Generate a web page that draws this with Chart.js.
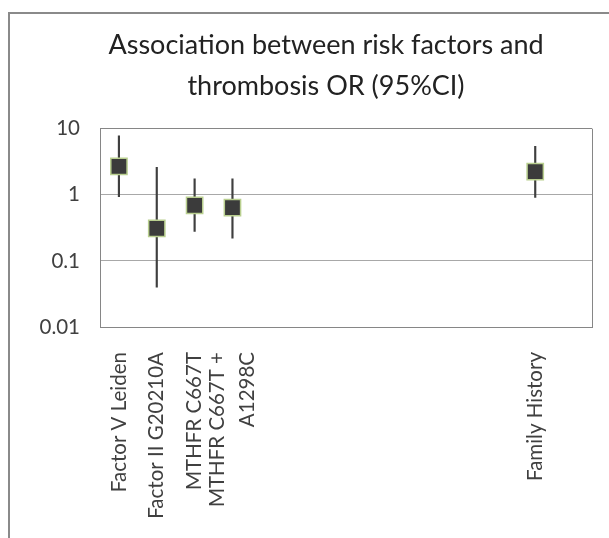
<!DOCTYPE html>
<html>
<head>
<meta charset="utf-8">
<script src="https://cdn.jsdelivr.net/npm/chart.js@4.4.1/dist/chart.umd.min.js"></script>
<style>
  html, body { margin: 0; padding: 0; background: #fff; overflow: hidden; }
  #wrap { position: relative; width: 609px; height: 538px; }
  #frame {
    position: absolute; left: 8px; top: 12px; width: 700px; height: 600px;
    border-left: 2px solid #8a8a8a; border-top: 2px solid #8a8a8a;
    pointer-events: none;
  }
  canvas { position: absolute; left: 0; top: 0; }
</style>
</head>
<body>
<div id="wrap">
  <canvas id="orChart" width="609" height="538"></canvas>
  <div id="frame"></div>
</div>
<script>
// --- data ---
const categories = [
    'Factor V Leiden', 'Factor II G20210A', 'MTHFR C667T', ['MTHFR C667T +', 'A1298C'],
    '', '', '', '', '', '', '', 'Family History', ''
];
const oddsRatio = [2.7, 0.31, 0.69, 0.64, null, null, null, null, null, null, null, 2.25, null];
const ciLow     = [0.94, 0.04, 0.28, 0.22, null, null, null, null, null, null, null, 0.91, null];
const ciHigh    = [7.8, 2.6, 1.75, 1.75, null, null, null, null, null, null, null, 5.4, null];
const yTicks = [0.01, 0.1, 1, 10];

// whiskers as floating bars
const ciRange = ciLow.map((lo, i) => lo == null ? null : [lo, ciHigh[i]]);

// center wrapped tick labels on their tick (like Excel does),
// and center the title over the chart box rather than the padded area
const layoutFix = {
    id: 'layoutFix',
    afterLayout(chart) {
        chart.titleBlock.left += 20;
        const items = chart.scales.x.getLabelItems();
        items.forEach(item => {
            if (Array.isArray(item.label) && item.label.length > 1) {
                item.options.translation[0] -= (item.label.length - 1) * item.font.lineHeight / 2;
            }
        });
    }
};

// right edge of the plot area
const plotEdge = {
    id: 'plotEdge',
    beforeDatasetsDraw(chart) {
        const a = chart.chartArea, ctx = chart.ctx;
        ctx.save();
        ctx.strokeStyle = '#868686';
        ctx.lineWidth = 1;
        ctx.beginPath();
        ctx.moveTo(Math.round(a.right) + 0.5, a.top);
        ctx.lineTo(Math.round(a.right) + 0.5, a.bottom);
        ctx.stroke();
        ctx.restore();
    }
};

const ctx = document.getElementById('orChart').getContext('2d');
new Chart(ctx, {
    type: 'bar',
    data: {
        labels: categories,
        datasets: [{
            type: 'line',
            label: 'OR',
            data: oddsRatio,
            showLine: false,
            pointStyle: 'rect',
            pointRadius: 11.5,
            pointBackgroundColor: '#3b3b3b',
            pointBorderColor: '#b9cf8f',
            pointBorderWidth: 1.5,
            order: 0
        }, {
            label: '95% CI',
            data: ciRange,
            backgroundColor: '#3f3f3f',
            barThickness: 1.5,
            borderWidth: 0,
            order: 1
        }]
    },
    options: {
        responsive: false,
        animation: false,
        layout: { padding: { left: 40, right: 17, top: 0, bottom: 0 } },
        plugins: {
            legend: { display: false },
            tooltip: { enabled: false },
            title: {
                display: true,
                text: ['Association between risk factors and', 'thrombosis OR (95%CI)'],
                color: '#222',
                font: { family: 'Lato', size: 27, weight: 'normal', lineHeight: 1.55 },
                padding: { top: 24, bottom: 21 }
            }
        },
        scales: {
            x: {
                grid: { display: false },
                border: { color: '#868686' },
                ticks: {
                    autoSkip: false,
                    minRotation: 90,
                    maxRotation: 90,
                    padding: 17,
                    color: '#404040',
                    font: { family: 'Lato', size: 20.5, lineHeight: 1.45 }
                },
                afterFit: s => {
                    s.height = 211;
                    s.paddingLeft = 0;
                    s.paddingRight = 0;
                }
            },
            y: {
                type: 'logarithmic',
                min: 0.01,
                max: 10,
                afterBuildTicks: s => { s.ticks = yTicks.map(v => ({ value: v })); },
                grid: {
                    drawTicks: false,
                    color: c => (c.tick && (c.tick.value === 10 || c.tick.value === 0.01)) ? '#868686' : '#a8a8a8'
                },
                border: { color: '#868686' },
                ticks: {
                    padding: 20,
                    color: '#404040',
                    font: { family: 'Lato', size: 20.5 },
                    callback: v => String(v)
                },
                afterFit: s => { s.width = 60; }
            }
        }
    },
    plugins: [layoutFix, plotEdge]
});
</script>
</body>
</html>
